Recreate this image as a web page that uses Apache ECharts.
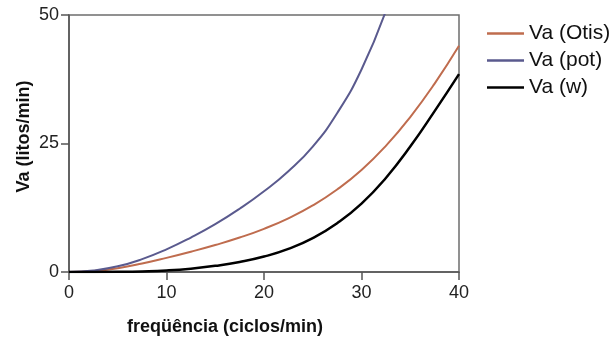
<!DOCTYPE html>
<html>
<head>
<meta charset="utf-8">
<script src="https://cdn.jsdelivr.net/npm/echarts@6/dist/echarts.min.js"></script>
<style>
  html, body { margin: 0; padding: 0; background: #fff; }
  #chart { width: 616px; height: 341px; }
</style>
</head>
<body>
<div id="chart"></div>
<script>
// frequency (ciclos/min) and Va (litos/min)
const freq = [0, 2.5, 5, 7.5, 10, 12.5, 15, 17.5, 20, 22.5, 25, 27.5, 30, 32.5, 35, 37.5, 40];
const vaOtis = [0, 0.2, 0.75, 1.65, 2.75, 3.95, 5.25, 6.7, 8.4, 10.45, 12.95, 16.05, 19.85, 24.55, 30.15, 36.65, 44.0];
const vaW = [0, 0, 0.03, 0.12, 0.3, 0.65, 1.2, 1.95, 3.0, 4.5, 6.6, 9.5, 13.3, 18.3, 24.4, 31.3, 38.5];
// pot curve runs off the top of the plot a little after 32
const vaPot = [0, 0.3, 1.1, 2.5, 4.4, 6.7, 9.3, 12.3, 15.7, 19.6, 24.4, 30.9, 39.4, 50.8];

const xTicks = [0, 10, 20, 30, 40];
const yTicks = [0, 25, 50];

const pairs = (xs, ys) => ys.map((y, i) => [xs[i], y]);

const chart = echarts.init(document.getElementById('chart'));
const font = 'Liberation Sans, Arial, sans-serif';

chart.setOption({
  animation: false,
  grid: {
    left: 69, right: 157, top: 15, bottom: 67,
    show: true, borderColor: '#6e6e6e', borderWidth: 1.5
  },
  legend: {
    orient: 'vertical',
    left: 487, top: 23,
    padding: 0,
    icon: 'rect',
    itemWidth: 37, itemHeight: 2.5,
    itemGap: 6,
    textStyle: { fontFamily: font, fontSize: 21, color: '#111' },
    data: ['Va (Otis)', 'Va (pot)', 'Va (w)']
  },
  xAxis: {
    type: 'value',
    min: xTicks[0], max: xTicks[xTicks.length - 1], interval: 10,
    name: 'freqüência (ciclos/min)',
    nameLocation: 'middle',
    nameGap: 46,
    nameMoveOverlap: false,
    nameTextStyle: { fontFamily: font, fontSize: 18, fontWeight: 'bold', color: '#111', padding: [0, 78, 0, 0] },
    axisLine: { lineStyle: { color: '#555', width: 1.5 } },
    axisTick: { length: 8, lineStyle: { color: '#555', width: 1.5 } },
    axisLabel: { margin: 12, fontFamily: font, fontSize: 18, color: '#222' },
    splitLine: { show: false }
  },
  yAxis: {
    type: 'value',
    min: yTicks[0], max: yTicks[yTicks.length - 1], interval: 25,
    name: 'Va (litos/min)',
    nameLocation: 'middle',
    nameGap: 36,
    nameMoveOverlap: false,
    nameTextStyle: { fontFamily: font, fontSize: 18, fontWeight: 'bold', color: '#111', padding: [0, 0, 0, 14] },
    axisLine: { show: true, lineStyle: { color: '#555', width: 1.5 } },
    axisTick: { show: true, length: 8, lineStyle: { color: '#555', width: 1.5 } },
    axisLabel: { margin: 10, fontFamily: font, fontSize: 18, color: '#222' },
    splitLine: { show: false }
  },
  series: [
    {
      name: 'Va (Otis)', type: 'line', smooth: true, showSymbol: false,
      data: pairs(freq, vaOtis),
      itemStyle: { color: '#bf6c4e' },
      lineStyle: { color: '#bf6c4e', width: 2 }
    },
    {
      name: 'Va (pot)', type: 'line', smooth: true, showSymbol: false, clip: true,
      data: pairs(freq, vaPot),
      itemStyle: { color: '#5a5a8e' },
      lineStyle: { color: '#5a5a8e', width: 2 }
    },
    {
      name: 'Va (w)', type: 'line', smooth: true, showSymbol: false,
      data: pairs(freq, vaW),
      itemStyle: { color: '#000' },
      lineStyle: { color: '#000', width: 2.5 }
    }
  ]
});
</script>
</body>
</html>
